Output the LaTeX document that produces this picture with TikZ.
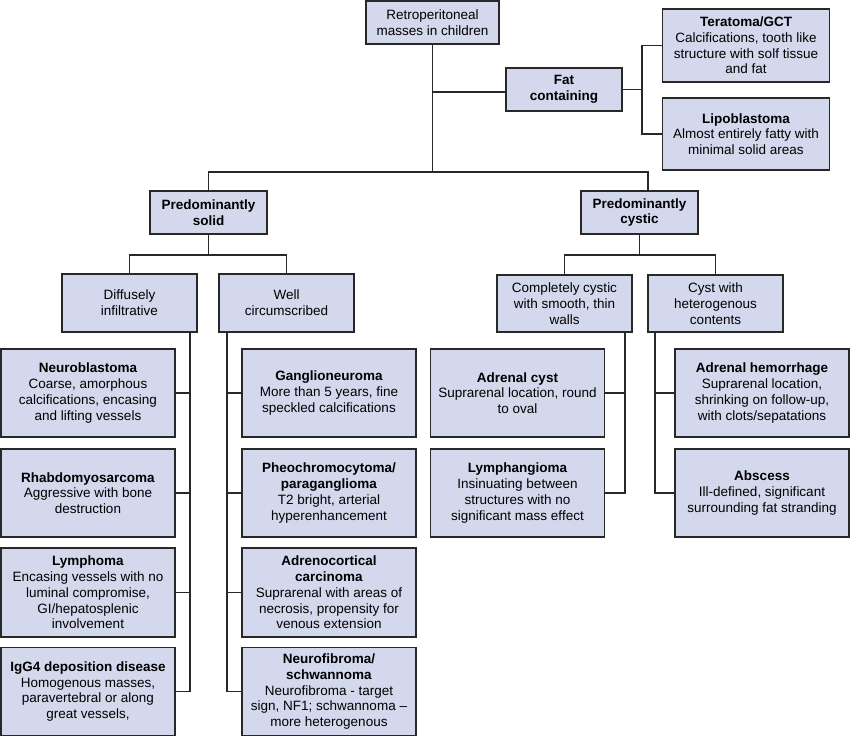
\documentclass[tikz,border=0pt]{standalone}
\usepackage{fontspec}
\setmainfont{Liberation Sans}
\definecolor{boxfill}{RGB}{211,216,237}
\definecolor{lineclr}{RGB}{40,40,40}
\tikzset{
  bx/.style={draw=lineclr, fill=boxfill, line width=1.6pt, inner sep=1pt, align=center,
    font=\fontsize{13.5}{15.7}\selectfont},
  hd/.style={bx, minimum width=117pt, minimum height=43pt},
  mid/.style={bx, minimum width=135pt, minimum height=58pt},
  leaf/.style={bx, minimum width=174pt, minimum height=88pt},
  conn/.style={draw=lineclr, line width=1.5pt}
}
\begin{document}
\begin{tikzpicture}[x=1pt,y=-1pt]
\useasboundingbox (0,0) rectangle (850,737);
% top level
\node[bx, minimum width=133pt, minimum height=43pt] (root) at (432.5,22.5) {Retroperitoneal\\masses in children};
\node[hd, minimum width=116pt] (fat) at (564,89.5) {\textbf{Fat}\\\textbf{containing}};
\node[bx, minimum width=167pt, minimum height=73pt] (tera) at (746,45.5) {\textbf{Teratoma/GCT}\\Calcifications, tooth like\\structure with solf tissue\\and fat};
\node[bx, minimum width=167pt, minimum height=72pt] (lipo) at (746,134) {\textbf{Lipoblastoma}\\Almost entirely fatty with\\minimal solid areas};
\node[hd] (solid) at (208.5,212.5) {\textbf{Predominantly}\\\textbf{solid}};
\node[hd] (cystic) at (639.5,212.5) {\textbf{Predominantly}\\\textbf{cystic}};
% second level
\node[mid] (diffuse) at (129.5,303) {Diffusely\\infiltrative};
\node[mid] (well) at (286.5,303) {Well\\circumscribed};
\node[mid, minimum height=57pt] (complete) at (564.5,303.5) {Completely cystic\\with smooth, thin\\walls};
\node[mid, minimum height=57pt] (cystwith) at (715.5,303.5) {Cyst with\\heterogenous\\contents};
% leaves column 1
\node[leaf] (neuro) at (88,393) {\textbf{Neuroblastoma}\\Coarse, amorphous\\calcifications, encasing\\and lifting vessels};
\node[leaf] (rhabdo) at (88,493) {\textbf{Rhabdomyosarcoma}\\Aggressive with bone\\destruction};
\node[leaf, minimum height=89pt] (lymph) at (88,592.5) {\textbf{Lymphoma}\\Encasing vessels with no\\luminal compromise,\\GI/hepatosplenic\\involvement};
\node[leaf] (igg) at (88,691.5) {\textbf{IgG4 deposition disease}\\Homogenous masses,\\paravertebral or along\\great vessels,};
% leaves column 2
\node[leaf] (ganglio) at (329,393) {\textbf{Ganglioneuroma}\\More than 5 years, fine\\speckled calcifications};
\node[leaf] (pheo) at (329,493) {\textbf{Pheochromocytoma/}\\\textbf{paraganglioma}\\T2 bright, arterial\\hyperenhancement};
\node[leaf, minimum height=89pt] (adreno) at (329,592.5) {\textbf{Adrenocortical}\\\textbf{carcinoma}\\Suprarenal with areas of\\necrosis, propensity for\\venous extension};
\node[leaf] (neurof) at (329,691.5) {\textbf{Neurofibroma/}\\\textbf{schwannoma}\\Neurofibroma - target\\sign, NF1; schwannoma –\\more heterogenous};
% leaves column 3
\node[leaf] (acyst) at (517.5,393) {\textbf{Adrenal cyst}\\Suprarenal location, round\\to oval};
\node[leaf] (lymphang) at (517.5,493) {\textbf{Lymphangioma}\\Insinuating between\\structures with no\\significant mass effect};
% leaves column 4
\node[leaf] (ahem) at (762,393) {\textbf{Adrenal hemorrhage}\\Suprarenal location,\\shrinking on follow-up,\\with clots/sepatations};
\node[leaf] (abscess) at (762,493) {\textbf{Abscess}\\Ill-defined, significant\\surrounding fat stranding};
% junction coordinates
\coordinate (jfat) at (433,92);
\coordinate (barR) at (648,172);
\coordinate (brk) at (642,90);
\coordinate (s2) at (208.5,255);
\coordinate (c2) at (639.5,255);
\coordinate (dv) at (190,0);
\coordinate (wv) at (227,0);
\coordinate (cv) at (625,0);
\coordinate (hv) at (655,0);
% connectors
\path[conn] (root.south) -- (root.south |- barR);
\path[conn] (jfat) -- (jfat -| fat.west);
\path[conn] (solid.north) |- (barR) -- (barR |- cystic.north);
\path[conn] (fat.east) -- (fat.east -| brk);
\path[conn] (tera.west) -| (brk |- lipo.west) -- (lipo.west);
\path[conn] (solid.south) -- (s2);
\path[conn] (diffuse.north) |- (s2) -| (well.north);
\path[conn] (cystic.south) -- (c2);
\path[conn] (complete.north) |- (c2) -| (cystwith.north);
\path[conn] (diffuse.south -| dv) |- (igg.east);
\foreach \n in {neuro,rhabdo,lymph} \path[conn] (\n.east) -- (\n.east -| dv);
\path[conn] (well.south -| wv) |- (neurof.west);
\foreach \n in {ganglio,pheo,adreno} \path[conn] (\n.west) -- (\n.west -| wv);
\path[conn] (complete.south -| cv) |- (lymphang.east);
\path[conn] (acyst.east) -- (acyst.east -| cv);
\path[conn] (cystwith.south -| hv) |- (abscess.west);
\path[conn] (ahem.west) -- (ahem.west -| hv);
\end{tikzpicture}
\end{document}
